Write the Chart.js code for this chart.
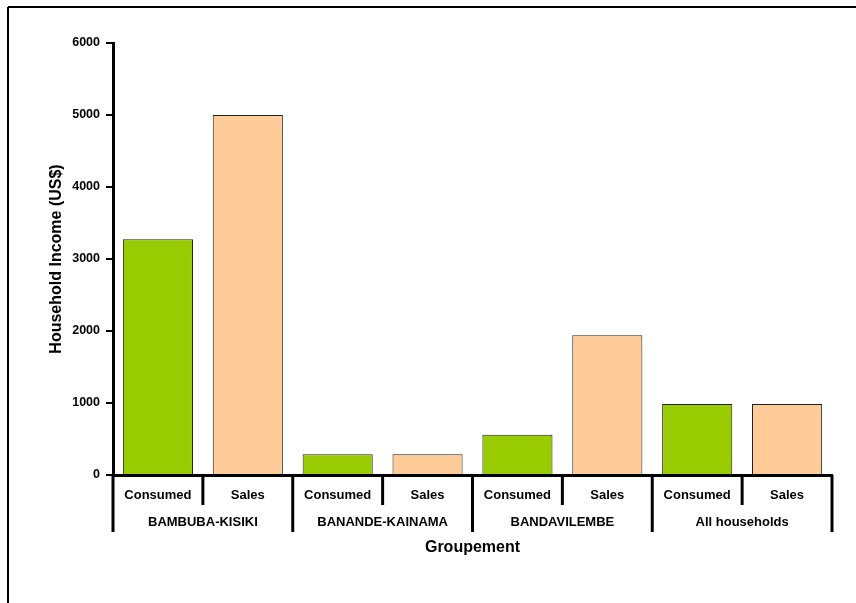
<!DOCTYPE html>
<html>
<head>
<meta charset="utf-8">
<script src="https://cdn.jsdelivr.net/npm/chart.js@4"></script>
<style>
html,body{margin:0;padding:0;background:#fff;}
canvas{display:block;}
</style>
</head>
<body>
<canvas id="c" width="856" height="603"></canvas>
<script>
const groups = ["BAMBUBA-KISIKI", "BANANDE-KAINAMA", "BANDAVILEMBE", "All households"];
const subLabels = ["Consumed", "Sales"];
const consumedValues = [3275, 288, 560, 985];
const salesValues = [5000, 288, 1940, 985];
const yTicks = [0, 1000, 2000, 3000, 4000, 5000, 6000];

const GREEN = "#99CC00";
const PEACH = "#FFCC99";
const FONT = "Arial, 'Liberation Sans', sans-serif";

const labels = [];
const values = [];
const colors = [];
groups.forEach((g, i) => {
  labels.push(subLabels[0]); values.push(consumedValues[i]); colors.push(GREEN);
  labels.push(subLabels[1]); values.push(salesValues[i]); colors.push(PEACH);
});

const xDecor = {
  id: "xDecor",
  beforeDraw(chart) {
    const ctx = chart.ctx;
    ctx.save();
    ctx.fillStyle = "#fff";
    ctx.fillRect(0, 0, chart.width, chart.height);
    ctx.strokeStyle = "#000";
    ctx.lineWidth = 2;
    ctx.beginPath();
    ctx.moveTo(8, 7); ctx.lineTo(chart.width + 5, 7);
    ctx.moveTo(8, 7); ctx.lineTo(8, chart.height + 5);
    ctx.stroke();
    ctx.restore();
  },
  afterDraw(chart) {
    const ctx = chart.ctx;
    const x = chart.scales.x;
    const area = chart.chartArea;
    const n = labels.length;
    const slot = (area.right - area.left) / n;
    const base = area.bottom;
    ctx.save();
    ctx.strokeStyle = "#000";
    ctx.lineWidth = 3;
    ctx.lineCap = "butt";
    for (let i = 0; i <= n; i++) {
      const px = i < n ? x.getPixelForValue(i) - slot / 2 : x.getPixelForValue(n - 1) + slot / 2;
      const long = i % 2 === 0;
      ctx.beginPath();
      ctx.moveTo(px, base);
      ctx.lineTo(px, base + (long ? 57 : 30));
      ctx.stroke();
    }
    ctx.fillStyle = "#000";
    ctx.textAlign = "center";
    ctx.textBaseline = "middle";
    ctx.font = "bold 13px " + FONT;
    labels.forEach((l, i) => {
      ctx.fillText(l, x.getPixelForValue(i), base + 20);
    });
    ctx.font = "bold 13px " + FONT;
    groups.forEach((g, i) => {
      const cx = (x.getPixelForValue(2 * i) + x.getPixelForValue(2 * i + 1)) / 2;
      ctx.fillText(g, cx, base + 47);
    });
    ctx.font = "bold 16px " + FONT;
    ctx.fillText("Groupement", (area.left + area.right) / 2, base + 73);
    ctx.restore();
  }
};

new Chart(document.getElementById("c"), {
  type: "bar",
  data: {
    labels: labels,
    datasets: [{
      data: values,
      backgroundColor: colors,
      borderColor: "#222",
      borderWidth: 1,
      barPercentage: 0.78,
      categoryPercentage: 1.0
    }]
  },
  options: {
    responsive: false,
    animation: false,
    devicePixelRatio: 1,
    layout: { padding: { left: 8, top: 43, right: 24, bottom: 0 } },
    plugins: { legend: { display: false }, tooltip: { enabled: false } },
    scales: {
      x: {
        ticks: { display: false },
        grid: { display: false },
        border: { display: true, color: "#000", width: 3 },
        afterFit(s) { s.height = 128; }
      },
      y: {
        min: 0, max: 6000,
        afterBuildTicks(s) { s.ticks = yTicks.map(v => ({ value: v })); },
        ticks: { color: "#000", font: { family: FONT, size: 12.5, weight: "bold" }, padding: 6, callback: (v) => String(v) },
        grid: { display: true, drawOnChartArea: false, drawTicks: true, tickLength: 7, color: "#000", lineWidth: 2 },
        border: { display: true, color: "#000", width: 3 },
        title: { display: true, text: "Household Income (US$)", color: "#000", font: { family: FONT, size: 16, weight: "bold" }, padding: { top: 39, bottom: 0 } },
        afterFit(s) { s.width = 105; }
      }
    }
  },
  plugins: [xDecor]
});
</script>
</body>
</html>
